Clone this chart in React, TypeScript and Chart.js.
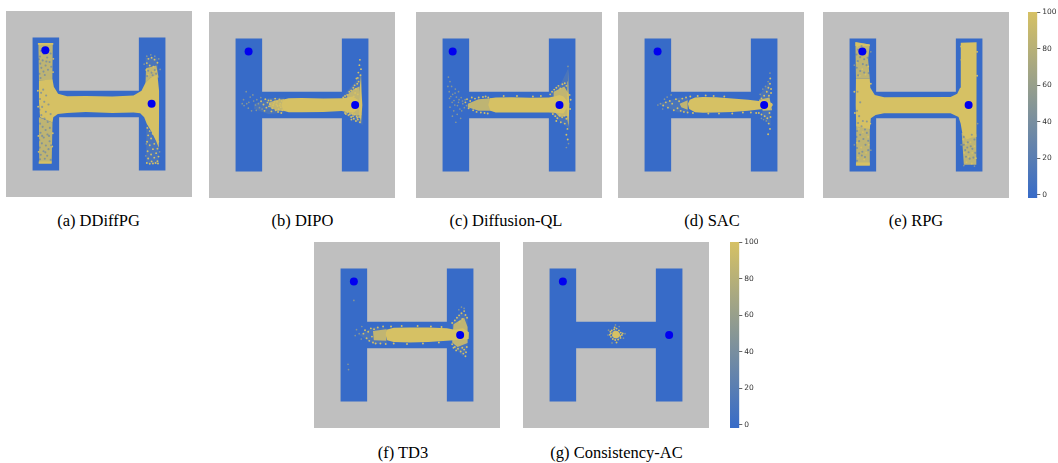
import React, { useEffect, useRef } from "react";
import { Chart, registerables } from "chart.js";

Chart.register(...registerables);

type Pt = number[];

const GRAY = "#bfbfbf";
const BLUE = "#376bc8";
const YELLOW = "#d6c164";
const GOAL = "#0000f0";

const arena: Pt[] = [[0, 0], [700, 0], [700, 700], [0, 700]];
const maze: Pt[] = [[100, 100], [200, 100], [200, 300], [500, 300], [500, 100], [600, 100], [600, 600], [500, 600], [500, 400], [200, 400], [200, 600], [100, 600]];

const colorbarTicks = [0, 20, 40, 60, 80, 100];
const colorbarRange = [-1.7, 100];

// (a) DDiffPG
const aCore: Pt[][] = [
  [[124, 262], [175, 258], [180, 285], [196, 311], [230, 321], [300, 320], [400, 322], [480, 318], [510, 300], [525, 270], [545, 250], [570, 240], [576, 300], [576, 400], [575, 515], [565, 490], [545, 450], [530, 425], [520, 400], [505, 385], [480, 382], [400, 384], [300, 380], [230, 384], [195, 388], [178, 400], [175, 420], [128, 400], [124, 340]],
  [[120, 120], [178, 120], [178, 127], [120, 127]],
  [[123, 566], [172, 566], [172, 575], [123, 575]],
];
const aHaze: Pt[][] = [
  [[122, 122], [176, 120], [175, 200], [174, 262], [124, 262]],
  [[124, 400], [175, 420], [172, 570], [125, 572]],
  [[527, 215], [566, 205], [574, 250], [545, 250], [525, 272]],
];
const aMist: Pt[][] = [
  [[525, 175], [570, 175], [575, 250], [530, 260]],
  [[528, 425], [575, 510], [575, 575], [528, 575]],
];
const aYellow: Pt[] = [[536, 180], [548, 176], [559, 183], [570, 195], [530, 196], [541, 205], [555, 210], [528, 222], [565, 226], [535, 240], [552, 228],
  [532, 440], [541, 452], [552, 462], [564, 478], [573, 492], [535, 468], [546, 480], [558, 500], [570, 518], [531, 492], [541, 505], [553, 520], [565, 535], [574, 548], [533, 528], [546, 540], [558, 552], [570, 565], [535, 555], [548, 566], [530, 572], [541, 575], [553, 574], [563, 572], [572, 574],
  [178, 180], [177, 230], [176, 460], [174, 510], [178, 300], [120, 300], [121, 360], [122, 470], [123, 530]];
const aBlue: Pt[] = [[131, 150], [142, 162], [128, 171], [155, 175], [138, 186], [164, 192], [129, 198], [149, 205], [133, 214], [158, 221], [141, 228], [126, 236], [168, 160], [136, 143], [160, 146], [146, 241], [130, 252], [170, 210], [152, 190], [124, 182],
  [140, 296], [132, 308], [151, 318], [128, 331], [144, 342], [160, 352], [136, 361], [126, 372], [150, 379], [168, 388], [133, 392], [145, 405], [157, 418], [128, 424], [138, 436], [165, 440], [149, 448], [130, 458], [156, 465], [142, 476], [125, 486], [164, 490], [135, 498], [150, 506], [127, 514], [160, 520], [141, 528], [131, 541], [155, 545], [146, 556], [168, 560], [128, 558], [136, 470], [170, 505], [148, 532], [162, 470],
  [535, 225], [548, 232], [560, 222], [531, 245], [552, 242], [565, 236]];
const aFaint: Pt[] = [[530, 170], [545, 165], [560, 170], [575, 180], [520, 200], [580, 220], [528, 500], [578, 530], [526, 545]];

// (b) DIPO
const bCore: Pt[][] = [
  [[280, 329], [300, 325], [350, 324], [430, 326], [500, 325], [520, 322], [540, 318], [560, 330], [566, 360], [545, 378], [515, 376], [500, 373], [430, 376], [350, 377], [300, 377], [280, 372], [272, 350]],
  [[572, 235], [574, 300], [577, 350], [572, 420], [567, 390], [566, 300]],
];
const bHaze: Pt[][] = [
  [[225, 342], [250, 332], [282, 327], [282, 372], [255, 372], [230, 358]],
  [[520, 312], [545, 290], [566, 280], [570, 390], [540, 388], [520, 376]],
];
const bMist: Pt[][] = [
  [[170, 345], [225, 325], [285, 322], [285, 378], [225, 385], [170, 365]],
  [[505, 315], [545, 270], [575, 230], [578, 425], [540, 405], [510, 385]],
];
const bYellow: Pt[] = [[196, 336], [205, 348], [212, 328], [220, 341], [226, 355], [233, 333], [238, 362], [243, 345], [249, 326], [251, 370], [256, 338], [258, 354], [262, 366], [265, 329], [268, 345], [270, 358], [274, 335], [276, 370], [278, 350], [247, 338], [241, 352], [229, 347], [216, 360], [209, 372], [224, 333], [235, 374], [260, 376], [272, 380], [254, 348], [266, 352],
  [505, 322], [512, 316], [520, 312], [528, 300], [535, 295], [543, 285], [548, 276], [553, 290], [558, 270], [563, 262], [550, 305], [560, 310], [545, 318],
  [520, 378], [530, 385], [515, 384], [540, 382], [548, 386], [556, 392], [535, 395], [545, 402], [560, 405], [553, 410], [565, 395], [568, 415], [525, 388], [512, 380], [570, 385], [542, 392], [558, 398], [536, 405],
  [566, 200], [572, 215], [562, 228], [570, 238], [555, 250], [568, 180], [560, 248]];
const bFaint: Pt[] = [[130, 330], [142, 345], [155, 320], [148, 362], [168, 335], [175, 350], [160, 372], [132, 352], [180, 330], [186, 345], [190, 360], [178, 370], [140, 300], [165, 312], [125, 345], [150, 340], [195, 322], [200, 365]];

// (c) Diffusion-QL
const cCore: Pt[][] = [
  [[279, 325], [300, 322], [360, 321], [430, 323], [500, 322], [520, 318], [540, 312], [555, 318], [578, 345], [555, 382], [530, 380], [500, 378], [430, 378], [360, 378], [300, 378], [280, 372], [272, 350]],
  [[570, 262], [572, 215], [574, 300], [577, 350], [574, 430], [569, 400]],
];
const cHaze: Pt[][] = [
  [[195, 345], [235, 328], [282, 325], [282, 372], [235, 372], [195, 358]],
  [[518, 300], [558, 280], [575, 310], [575, 390], [540, 395], [518, 372]],
];
const cMist: Pt[][] = [
  [[505, 310], [545, 270], [574, 210], [578, 440], [540, 410], [510, 385]],
];
const cYellow: Pt[] = [[186, 340], [192, 328], [198, 362], [204, 335], [210, 322], [215, 370], [222, 326], [228, 376], [236, 322], [244, 378], [252, 320], [262, 318], [272, 322], [258, 380], [270, 382],
  [330, 316], [380, 316], [440, 318], [470, 316],
  [505, 310], [512, 300], [520, 292], [528, 285], [536, 278], [543, 288], [551, 272], [560, 268], [566, 278], [578, 312], [582, 330], [580, 365],
  [515, 384], [524, 392], [532, 400], [541, 388], [550, 396], [558, 390], [566, 402], [528, 410], [545, 415], [560, 420], [570, 440], [566, 462], [571, 480]];
const cFaint: Pt[] = [[122, 245], [128, 262], [134, 280], [125, 300], [138, 310], [148, 290], [152, 320], [126, 325], [136, 340], [146, 350], [160, 340], [170, 322], [176, 345], [182, 360], [165, 365], [142, 372], [155, 385], [168, 400], [150, 415], [175, 335], [160, 300], [120, 280], [572, 205], [574, 495], [566, 510], [131, 318], [143, 333], [156, 352], [172, 372], [128, 358], [137, 392], [162, 330], [185, 330], [190, 352], [147, 305]];

// (d) SAC
const dCore: Pt[][] = [
  [[263, 345], [270, 330], [290, 322], [320, 320], [370, 321], [430, 326], [490, 330], [530, 335], [548, 330], [580, 343], [583, 350], [570, 368], [545, 365], [490, 372], [430, 376], [370, 378], [320, 379], [290, 377], [268, 365]],
];
const dHaze: Pt[][] = [
  [[232, 345], [262, 332], [262, 368], [238, 358]],
  [[530, 330], [570, 322], [580, 370], [545, 372]],
];
const dMist: Pt[][] = [
  [[150, 345], [230, 322], [265, 325], [265, 375], [225, 378]],
  [[535, 310], [570, 260], [575, 430], [545, 395]],
];
const dYellow: Pt[] = [[170, 352], [180, 340], [188, 360], [195, 335], [204, 345], [210, 370], [218, 328], [224, 362], [230, 336], [236, 372], [242, 326], [248, 376], [256, 322], [262, 378], [272, 318], [282, 380], [300, 316], [330, 314], [360, 316], [400, 318], [340, 382], [380, 382], [430, 382], [470, 378], [500, 378], [520, 380],
  [540, 325], [550, 315], [560, 300], [566, 285], [572, 270], [568, 315], [576, 305], [530, 380], [540, 386], [552, 392], [562, 400], [570, 380], [574, 395], [567, 420], [572, 440], [565, 460], [576, 290], [573, 250]];
const dFaint: Pt[] = [[160, 345], [168, 365], [175, 328], [150, 350], [185, 320], [200, 312], [572, 230], [565, 262], [555, 280], [545, 290], [535, 310], [558, 410], [548, 405], [540, 400]];

// (e) RPG
const eCore: Pt[][] = [
  [[124, 250], [176, 250], [178, 285], [195, 312], [230, 321], [480, 320], [505, 308], [516, 285], [518, 200], [519, 116], [578, 114], [578, 300], [577, 470], [560, 472], [540, 480], [525, 460], [518, 420], [510, 395], [480, 381], [230, 381], [198, 388], [180, 400], [176, 440], [125, 430], [123, 350]],
  [[122, 113], [176, 122], [176, 128], [122, 128]],
  [[124, 566], [176, 566], [176, 578], [124, 578]],
];
const eHaze: Pt[][] = [
  [[122, 115], [176, 122], [170, 180], [176, 250], [124, 250]],
  [[125, 420], [176, 430], [176, 578], [125, 578]],
  [[522, 455], [577, 460], [577, 575], [530, 575]],
];
const eMist: Pt[][] = [];
const eYellow: Pt[] = [[130, 130], [150, 140], [165, 160], [128, 190], [148, 215], [160, 235], [138, 240], [170, 205],
  [135, 440], [150, 452], [170, 470], [128, 492], [144, 510], [162, 530], [132, 548], [155, 555], [172, 500],
  [528, 480], [538, 495], [555, 490], [570, 505], [532, 530], [548, 545], [562, 530], [575, 550], [540, 565], [560, 570],
  [520, 130], [521, 180], [580, 150], [580, 240], [118, 300], [120, 380], [180, 270], [178, 420]];
const eBlue: Pt[] = [[132, 142], [145, 128], [160, 150], [126, 160], [140, 170], [155, 178], [168, 172], [131, 185], [150, 196], [164, 200], [127, 210], [140, 222], [155, 228], [132, 238], [172, 230],
  [130, 300], [140, 340], [136, 392], [128, 372], [150, 410], [165, 412], [132, 418], [145, 430], [158, 442], [128, 448], [140, 462], [165, 455], [126, 470], [152, 478], [170, 485], [136, 486], [160, 500], [128, 512], [148, 526], [170, 520], [136, 532], [158, 546], [128, 560], [146, 540],
  [530, 500], [543, 510], [556, 505], [535, 520], [548, 528], [562, 515], [573, 530], [538, 545], [552, 552], [566, 548], [545, 490], [530, 470], [560, 462], [570, 480]];
const eFaint: Pt[] = [[180, 150], [118, 200], [118, 500], [180, 520], [582, 420], [520, 500], [530, 578], [570, 580]];

// (f) TD3
const fCore: Pt[][] = [
  [[272, 330], [300, 323], [360, 322], [430, 322], [500, 325], [530, 330], [560, 325], [583, 340], [582, 365], [550, 368], [500, 372], [430, 376], [360, 378], [300, 376], [275, 370], [270, 350]],
];
const fHaze: Pt[][] = [
  [[222, 335], [272, 328], [272, 372], [225, 370]],
  [[525, 310], [565, 285], [578, 320], [578, 380], [540, 395], [520, 378]],
];
const fMist: Pt[][] = [
  [[170, 350], [225, 320], [275, 325], [275, 380], [225, 385]],
  [[520, 305], [555, 265], [578, 280], [578, 400], [560, 430], [525, 395]],
];
const fYellow: Pt[] = [[186, 345], [192, 332], [198, 362], [204, 338], [208, 372], [214, 325], [218, 356], [222, 378], [226, 328], [232, 382], [240, 322], [250, 382], [260, 318], [270, 384], [290, 318], [330, 316], [390, 316], [440, 318], [480, 320], [300, 382], [350, 384], [410, 382], [470, 378],
  [520, 305], [530, 295], [538, 285], [546, 276], [555, 268], [565, 260], [558, 290], [570, 275], [548, 300], [520, 385], [530, 395], [542, 402], [552, 412], [562, 420], [570, 430], [575, 395], [558, 398], [535, 408], [525, 398], [565, 405], [572, 415], [576, 285]];
const fFaint: Pt[] = [[160, 330], [170, 345], [178, 365], [155, 352], [180, 318], [130, 480], [128, 460], [150, 220], [555, 245], [565, 250], [545, 255]];

// (g) Consistency-AC
const gCore: Pt[][] = [
  [[337, 339], [346, 333], [356, 335], [363, 342], [366, 351], [360, 359], [351, 363], [342, 361], [335, 354]],
];
const gHaze: Pt[][] = [];
const gMist: Pt[][] = [];
const gYellow: Pt[] = [[331, 344], [334, 333], [343, 329], [352, 326], [361, 333], [368, 341], [372, 350], [367, 361], [358, 367], [347, 369], [338, 365], [331, 357], [327, 349], [345, 322], [375, 344], [352, 378], [366, 354], [329, 338]];
const gFaint: Pt[] = [[320, 350], [384, 345], [335, 380], [322, 332], [362, 318], [348, 312], [378, 362]];

const panels = [
  { caption: "(a) DDiffPG", left: 6, top: 11, captionX: 98.5, captionY: 221, goals: [[148, 148], [548, 349]], core: aCore, haze: aHaze, mist: aMist, yellow: aYellow, blue: aBlue, faint: aFaint },
  { caption: "(b) DIPO", left: 209, top: 12, captionX: 302.5, captionY: 221, goals: [[149, 149], [550, 350]], core: bCore, haze: bHaze, mist: bMist, yellow: bYellow, blue: [], faint: bFaint },
  { caption: "(c) Diffusion-QL", left: 416, top: 12, captionX: 506, captionY: 221, goals: [[138, 149], [540, 350]], core: cCore, haze: cHaze, mist: cMist, yellow: cYellow, blue: [], faint: cFaint },
  { caption: "(d) SAC", left: 618, top: 12, captionX: 712, captionY: 221, goals: [[149, 149], [550, 350]], core: dCore, haze: dHaze, mist: dMist, yellow: dYellow, blue: [], faint: dFaint },
  { caption: "(e) RPG", left: 823, top: 12, captionX: 916, captionY: 221, goals: [[148, 149], [548, 350]], core: eCore, haze: eHaze, mist: eMist, yellow: eYellow, blue: eBlue, faint: eFaint },
  { caption: "(f) TD3", left: 314, top: 242, captionX: 403, captionY: 453, goals: [[150, 149], [550, 350]], core: fCore, haze: fHaze, mist: fMist, yellow: fYellow, blue: [], faint: fFaint },
  { caption: "(g) Consistency-AC", left: 523, top: 242, captionX: 616.5, captionY: 453, goals: [[150, 149], [550, 350]], core: gCore, haze: gHaze, mist: gMist, yellow: gYellow, blue: [], faint: gFaint },
];

const colorbars = [
  { left: 1028, top: 12, height: 186 },
  { left: 730, top: 242, height: 186 },
];

const toXY = (pts: Pt[]) => pts.map(([x, y]) => ({ x, y }));
const shape = (pts: Pt[], color: string) => ({
  data: toXY(pts), showLine: true, fill: "shape", backgroundColor: color, borderColor: "transparent", borderWidth: 0, pointRadius: 0, tension: 0,
});
const flecks = (pts: Pt[], color: string, r: number) => ({
  data: toXY(pts), showLine: false, backgroundColor: color, borderWidth: 0, pointRadius: r,
});

function Panel({ p }: { p: (typeof panels)[number] }) {
  const ref = useRef<HTMLCanvasElement>(null);
  useEffect(() => {
    const layers: any[] = [
      shape(arena, GRAY),
      shape(maze, BLUE),
      ...p.mist.map((m) => shape(m, "rgba(214,193,100,0.12)")),
      ...p.haze.map((h) => shape(h, "rgba(214,193,100,0.85)")),
      ...p.core.map((c) => shape(c, YELLOW)),
      flecks(p.faint, "rgba(214,193,100,0.5)", 0.85),
      flecks(p.yellow, YELLOW, 0.95),
      flecks(p.blue, "rgba(55,107,200,0.45)", 1.05),
      flecks(p.goals, GOAL, 4),
    ];
    layers.forEach((d, i) => (d.order = layers.length - i));
    const chart = new Chart(ref.current!, {
      type: "scatter",
      data: { datasets: layers },
      options: {
        animation: false,
        responsive: false,
        events: [],
        layout: { padding: 0, autoPadding: false },
        plugins: { legend: { display: false }, tooltip: { enabled: false }, title: { display: false } },
        scales: {
          x: { type: "linear", min: 0, max: 700, display: false },
          y: { type: "linear", min: 0, max: 700, reverse: true, display: false },
        },
      },
    } as any);
    return () => chart.destroy();
  }, [p]);
  return <canvas ref={ref} width={186} height={186} style={{ position: "absolute", left: p.left, top: p.top, width: 186, height: 186, filter: "blur(0.35px)" }} />;
}

function Colorbar({ left, top, height }: { left: number; top: number; height: number }) {
  const ref = useRef<HTMLCanvasElement>(null);
  useEffect(() => {
    const chart = new Chart(ref.current!, {
      type: "bar",
      data: {
        labels: [""],
        datasets: [{
          data: [colorbarRange],
          barPercentage: 1,
          categoryPercentage: 1,
          borderWidth: 0,
          borderSkipped: false,
          backgroundColor: (ctx: any) => {
            const area = ctx.chart.chartArea;
            if (!area) return BLUE;
            const g = ctx.chart.ctx.createLinearGradient(0, area.bottom, 0, area.top);
            g.addColorStop(0, BLUE);
            g.addColorStop(1, YELLOW);
            return g;
          },
        }],
      },
      options: {
        animation: false,
        responsive: false,
        events: [],
        layout: { padding: { top: 8, bottom: 8, left: 0, right: 0 }, autoPadding: false },
        plugins: { legend: { display: false }, tooltip: { enabled: false } },
        scales: {
          x: { display: false },
          y: {
            position: "right",
            min: colorbarRange[0],
            max: colorbarRange[1],
            afterBuildTicks: (s: any) => { s.ticks = colorbarTicks.map((value) => ({ value })); },
            afterFit: (s: any) => { s.width = 20.7; },
            border: { display: false },
            grid: { drawOnChartArea: false, tickLength: 3, tickColor: "#666", tickWidth: 1 },
            ticks: { padding: 2, color: "#333", font: { family: "DejaVu Sans", size: 7.5 } },
          },
        },
      },
    } as any);
    return () => chart.destroy();
  }, [left, top, height]);
  return <canvas ref={ref} width={30} height={height + 16} style={{ position: "absolute", left, top: top - 8, width: 30, height: height + 16 }} />;
}

export default function App() {
  return (
    <div style={{ position: "absolute", left: 0, top: 0, width: 1058, height: 463, overflow: "hidden", background: "#fff" }}>
      {panels.map((p) => <Panel key={p.caption} p={p} />)}
      {colorbars.map((c) => <Colorbar key={c.left} {...c} />)}
      {panels.map((p) => (
        <div key={p.caption + "-label"} style={{ position: "absolute", left: p.captionX, top: p.captionY, transform: "translate(-50%,-50%)", whiteSpace: "nowrap", font: '16.5px "Liberation Serif"', color: "#000" }}>
          {p.caption}
        </div>
      ))}
    </div>
  );
}
